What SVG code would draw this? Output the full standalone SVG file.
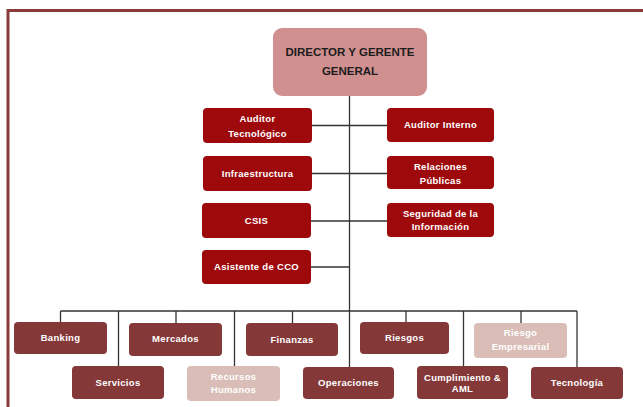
<svg xmlns="http://www.w3.org/2000/svg" width="643" height="407" viewBox="0 0 643 407">
<style>
.frame{fill:none;stroke:#8B3A3A;stroke-width:3}
.ln{stroke:#333;stroke-width:1.3;fill:none}
.top{fill:#D09090}
.up{fill:#9E0A0C}
.lo{fill:#843838}
.lt{fill:#D9BDB6}
text{font-family:"Liberation Sans",Arial,sans-serif;font-weight:bold;text-anchor:middle}
.tt{font-size:11.5px;fill:#1c1c1c}
.nt{font-size:9.5px;fill:#fff;letter-spacing:0.3px}
</style>
<rect class="frame" x="8" y="10.5" width="700" height="500"/>
<g id="connectors">
<line class="ln" x1="349.5" y1="96" x2="349.5" y2="399"/>
<line class="ln" x1="312" y1="125.5" x2="387" y2="125.5"/>
<line class="ln" x1="312" y1="173.5" x2="387" y2="173.5"/>
<line class="ln" x1="311" y1="221" x2="387" y2="221"/>
<line class="ln" x1="311" y1="267" x2="350" y2="267"/>
<line class="ln" x1="60.5" y1="311" x2="577" y2="311"/>
<line class="ln" x1="60.5" y1="311" x2="60.5" y2="322"/>
<line class="ln" x1="118.5" y1="311" x2="118.5" y2="366"/>
<line class="ln" x1="176" y1="311" x2="176" y2="323"/>
<line class="ln" x1="234.5" y1="311" x2="234.5" y2="366"/>
<line class="ln" x1="292.5" y1="311" x2="292.5" y2="323"/>
<line class="ln" x1="406" y1="311" x2="406" y2="322"/>
<line class="ln" x1="463.5" y1="311" x2="463.5" y2="366"/>
<line class="ln" x1="521" y1="311" x2="521" y2="323"/>
<line class="ln" x1="577" y1="311" x2="577" y2="367"/>
</g>
<g id="director"><rect class="top" x="273" y="28" width="154" height="68" rx="9"/><text class="tt" x="350" y="56">DIRECTOR Y GERENTE</text><text class="tt" x="350" y="74.5">GENERAL</text></g>
<g id="auditor-tec"><rect class="up" x="203" y="108" width="109" height="35" rx="4"/><text class="nt" x="257.5" y="122.3">Auditor</text><text class="nt" x="257.5" y="136.6">Tecnológico</text></g>
<g id="auditor-int"><rect class="up" x="387" y="108" width="107" height="34" rx="4"/><text class="nt" x="440.5" y="128.4">Auditor Interno</text></g>
<g id="infra"><rect class="up" x="203" y="156" width="109" height="35" rx="4"/><text class="nt" x="257.5" y="176.9">Infraestructura</text></g>
<g id="relaciones"><rect class="up" x="387" y="156" width="107" height="33" rx="4"/><text class="nt" x="440.5" y="170">Relaciones</text><text class="nt" x="440.5" y="184">Públicas</text></g>
<g id="csis"><rect class="up" x="202" y="203" width="109" height="35" rx="4"/><text class="nt" x="256.5" y="224.4">CSIS</text></g>
<g id="seguridad"><rect class="up" x="387" y="203" width="107" height="34" rx="4"/><text class="nt" x="440.5" y="216.6">Seguridad de la</text><text class="nt" x="440.5" y="230">Información</text></g>
<g id="asistente"><rect class="up" x="202" y="250" width="109" height="34" rx="4"/><text class="nt" x="256.5" y="270.4">Asistente de CCO</text></g>
<g id="banking"><rect class="lo" x="14" y="322" width="93" height="32" rx="4"/><text class="nt" x="60.5" y="341.4">Banking</text></g>
<g id="servicios"><rect class="lo" x="72" y="366" width="92" height="33" rx="4"/><text class="nt" x="118" y="385.9">Servicios</text></g>
<g id="mercados"><rect class="lo" x="129" y="323" width="93" height="33" rx="4"/><text class="nt" x="175.5" y="342.4">Mercados</text></g>
<g id="rrhh"><rect class="lt" x="187" y="366" width="93" height="35" rx="4"/><text class="nt" x="233.5" y="380">Recursos</text><text class="nt" x="233.5" y="393.4">Humanos</text></g>
<g id="finanzas"><rect class="lo" x="246" y="323" width="92" height="33" rx="4"/><text class="nt" x="292" y="343.4">Finanzas</text></g>
<g id="operaciones"><rect class="lo" x="303" y="367" width="91" height="32" rx="4"/><text class="nt" x="348.5" y="386.4">Operaciones</text></g>
<g id="riesgos"><rect class="lo" x="360" y="322" width="89" height="32" rx="4"/><text class="nt" x="404.5" y="341.4">Riesgos</text></g>
<g id="cumplimiento"><rect class="lo" x="417" y="366" width="91" height="33" rx="4"/><text class="nt" x="462.5" y="380.6">Cumplimiento &amp;</text><text class="nt" x="462.5" y="392.4">AML</text></g>
<g id="riesgo-emp"><rect class="lt" x="474" y="323" width="93" height="35" rx="4"/><text class="nt" x="520.5" y="336.4">Riesgo</text><text class="nt" x="520.5" y="350.4">Empresarial</text></g>
<g id="tecnologia"><rect class="lo" x="531" y="367" width="92" height="32" rx="4"/><text class="nt" x="577" y="386.4">Tecnología</text></g>
</svg>
